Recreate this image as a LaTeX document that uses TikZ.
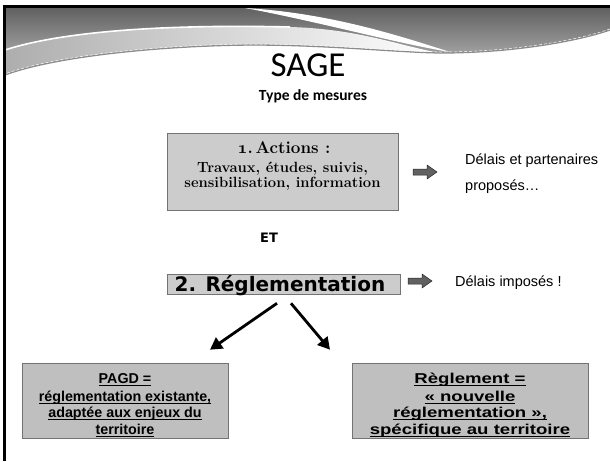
\documentclass[tikz,border=0pt]{standalone}
\usepackage{fontspec}
\usetikzlibrary{arrows.meta,calc,shadows}
\newfontfamily\calibri{Carlito}
\newfontfamily\arial{Liberation Sans}
\newfontfamily\verd{DejaVu Sans}
\newcommand\myul[1]{\leavevmode\setbox0\hbox{#1}\rlap{\rule[-2.4pt]{\wd0}{0.9pt}}\box0}
\newcommand\wideul[1]{\scalebox{1.3}[1]{\myul{#1}}}
\begin{document}
\begin{tikzpicture}[x=1pt,y=-1pt,
  gbox/.style={draw=black!55, line width=0.6pt, fill=black!22,
    drop shadow={shadow xshift=1.4pt, shadow yshift=-1.4pt, fill=black, opacity=1}},
  bigarrow/.style={line width=2.8pt, -{Triangle[length=12pt,width=13pt]}},
  blockarrow/.style={fill=black!62, draw=black!85, line width=0.5pt},
  lowtxt/.style={font=\arial\bfseries\fontsize{14.3}{16}\selectfont, anchor=base, inner sep=0pt},
  sidetxt/.style={font=\arial\fontsize{14.5}{16}\selectfont, anchor=base west, inner sep=0pt},
  acttxt/.style={font=\bfseries\fontsize{14.8}{15}\selectfont, anchor=base, inner sep=0pt}]
\useasboundingbox (0,0) rectangle (610,461);
\fill[white] (0,0) rectangle (610,461);
% header banner
\shade[top color=black!62, bottom color=black!25]
  (5,8) -- (610,8) -- (610,30)
  .. controls (575,42) and (510,53) .. (440,53)
  .. controls (390,52) and (330,45) .. (250,45)
  .. controls (150,46) and (50,58) .. (5,75) -- cycle;
\shade[left color=black!32, right color=white]
  (5,50) .. controls (60,32) and (160,24) .. (290,27)
  .. controls (360,29) and (400,46) .. (440,53)
  .. controls (390,52) and (330,45) .. (250,45)
  .. controls (150,46) and (50,58) .. (5,75) -- cycle;
\draw[white, line width=1.6pt]
  (5,50) .. controls (60,32) and (160,24) .. (290,27);
\fill[white] (245,8) .. controls (330,13) and (400,36) .. (450,52)
  .. controls (395,43) and (320,22) .. (245,8) -- cycle;
\draw[black!45, line width=1.3pt]
  (610,30) .. controls (575,42) and (510,53) .. (440,53)
  .. controls (390,52) and (330,45) .. (250,45)
  .. controls (150,46) and (50,58) .. (5,75);
\draw[white, line width=0.5pt, dash pattern=on 3pt off 2pt]
  (610,29) .. controls (575,41) and (510,52) .. (440,52)
  .. controls (390,51) and (330,44) .. (250,44)
  .. controls (150,45) and (50,57) .. (5,74);
% frame
\draw[black, line width=3pt] (2.8,6.5) -- (610,6.5);
\draw[black, line width=3pt] (4.3,5) -- (4.3,461);
% titles
\node[font=\calibri\fontsize{35}{40}\selectfont, anchor=base, inner sep=0pt] (title) at (308,76) {SAGE};
\node[font=\calibri\bfseries\fontsize{15.5}{18}\selectfont, anchor=base, inner sep=0pt] (sub) at (313,100) {Type de mesures};
% box 1
\node[gbox, fill=black!20, minimum width=231pt, minimum height=77pt, inner sep=0pt] (act) at (282.5,171.5) {};
\node[acttxt, font=\bfseries\fontsize{17}{18}\selectfont] (act1) at (284,153) {{\usefont{OML}{cmm}{b}{it}1}.\,Actions :};
\node[acttxt] (act2) at (282.5,172) {Travaux, études, suivis,};
\node[acttxt] (act3) at (282.5,187) {sensibilisation, information};
\draw[blockarrow] (413,169) -- (427,169) -- (427,165) -- (437,172) -- (427,179) -- (427,175) -- (413,175) -- cycle;
\node[sidetxt] (d1) at (465,164) {Délais et partenaires};
\node[sidetxt] (d2) at (465,190) {proposés…};
% ET
\node[font=\verd\bfseries\fontsize{13}{15}\selectfont, anchor=base, inner sep=0pt] (et) at (269,242) {ET};
% box 2
\node[gbox, fill=black!20, minimum width=233pt, minimum height=20pt, inner sep=0pt] (reg) at (283.5,284) {};
\node[font=\verd\bfseries\fontsize{20}{22}\selectfont, anchor=base, inner sep=0pt] (regt) at (280,291) {2. Réglementation};
\draw[blockarrow] (408,278) -- (422,278) -- (422,274) -- (432,281) -- (422,288) -- (422,284) -- (408,284) -- cycle;
\node[sidetxt] (d3) at (455,286) {Délais imposés !};
% lower boxes
\node[gbox, fill=black!25, minimum width=206pt, minimum height=75pt, inner sep=0pt] (pagd) at (125,400.5) {};
\node[gbox, fill=black!25, minimum width=236pt, minimum height=75pt, inner sep=0pt] (regl) at (470,400.5) {};
\draw[bigarrow] ($(reg.south)+(-6.5,9)$) -- ($(pagd.north)+(85,-13)$);
\draw[bigarrow] ($(reg.south)+(7.5,9)$) -- ($(regl.north)+(-140,-13)$);
\node[lowtxt] (p1) at (125,383) {\myul{PAGD =}};
\node[lowtxt] (p2) at (125,401) {\myul{réglementation existante,}};
\node[lowtxt] (p3) at (125,417) {\myul{adaptée aux enjeux du}};
\node[lowtxt] (p4) at (125,434) {\myul{territoire}};
\node[lowtxt] (r1) at (470,383) {\wideul{Règlement =}};
\node[lowtxt] (r2) at (470,401) {\wideul{« nouvelle}};
\node[lowtxt] (r3) at (470,417) {\wideul{réglementation »,}};
\node[lowtxt] (r4) at (470,434) {\wideul{spécifique au territoire}};
\end{tikzpicture}
\end{document}
